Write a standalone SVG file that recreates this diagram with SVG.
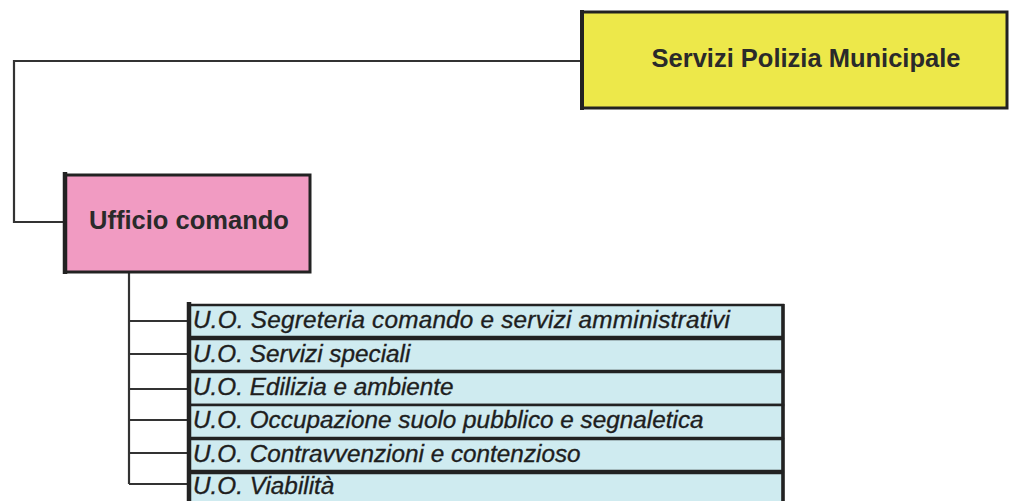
<svg xmlns="http://www.w3.org/2000/svg" width="1010" height="501" viewBox="0 0 1010 501">
<style>
.conn{fill:none;stroke:#333;stroke-width:2.2}
.box{stroke:#222;stroke-width:3}
.title{font-family:"Liberation Sans",Arial,sans-serif;font-weight:bold;font-size:25.5px;fill:#2a2a2a}
.row{fill:#cfebf0;stroke:#222;stroke-width:2.5}
.rt{font-family:"Liberation Sans",Arial,sans-serif;font-style:italic;font-size:24.3px;fill:#1e1e1e;stroke:#1e1e1e;stroke-width:0.35}
</style>
<rect width="1010" height="501" fill="#fff"/>
<g id="connectors">
<path class="conn" d="M581 61 H14 V222 H64"/>
<path class="conn" d="M129 272 V484"/>
<path class="conn" d="M129 321 H188 M129 354 H188 M129 389 H188 M129 420 H188 M129 453 H188 M129 484 H188"/>
</g>
<g id="servizi">
<rect class="box" x="582" y="12" width="425" height="96" fill="#ede84a"/>
<line x1="582" y1="10" x2="582" y2="110" stroke="#222" stroke-width="4"/>
<text class="title" x="806" y="67" text-anchor="middle">Servizi Polizia Municipale</text>
</g>
<g id="ufficio">
<rect class="box" x="65" y="175" width="245" height="97" fill="#f19bc2"/>
<line x1="65" y1="172" x2="65" y2="274" stroke="#222" stroke-width="4.5"/>
<text class="title" x="189" y="229" text-anchor="middle">Ufficio comando</text>
</g>
<g id="uo1"><rect class="row" x="189" y="305" width="594" height="32"/><text class="rt" x="193" y="328" textLength="537" lengthAdjust="spacing">U.O. Segreteria comando e servizi amministrativi</text></g>
<g id="uo2"><rect class="row" x="189" y="339" width="594" height="32"/><text class="rt" x="193" y="362">U.O. Servizi speciali</text></g>
<g id="uo3"><rect class="row" x="189" y="372" width="594" height="33"/><text class="rt" x="193" y="395">U.O. Edilizia e ambiente</text></g>
<g id="uo4"><rect class="row" x="189" y="405" width="594" height="33"/><text class="rt" x="193" y="428">U.O. Occupazione suolo pubblico e segnaletica</text></g>
<g id="uo5"><rect class="row" x="189" y="439" width="594" height="32"/><text class="rt" x="193" y="462">U.O. Contravvenzioni e contenzioso</text></g>
<g id="uo6"><rect class="row" x="189" y="473" width="594" height="40"/><text class="rt" x="193" y="494">U.O. Viabilità</text></g>
<g id="borders">
<line x1="189" y1="302" x2="189" y2="501" stroke="#222" stroke-width="4.5"/>
<line x1="189" y1="338" x2="783" y2="338" stroke="#222" stroke-width="4"/>
<line x1="189" y1="472" x2="783" y2="472" stroke="#222" stroke-width="4"/>
<line x1="783" y1="304" x2="783" y2="501" stroke="#222" stroke-width="3.5"/>
</g>
</svg>
